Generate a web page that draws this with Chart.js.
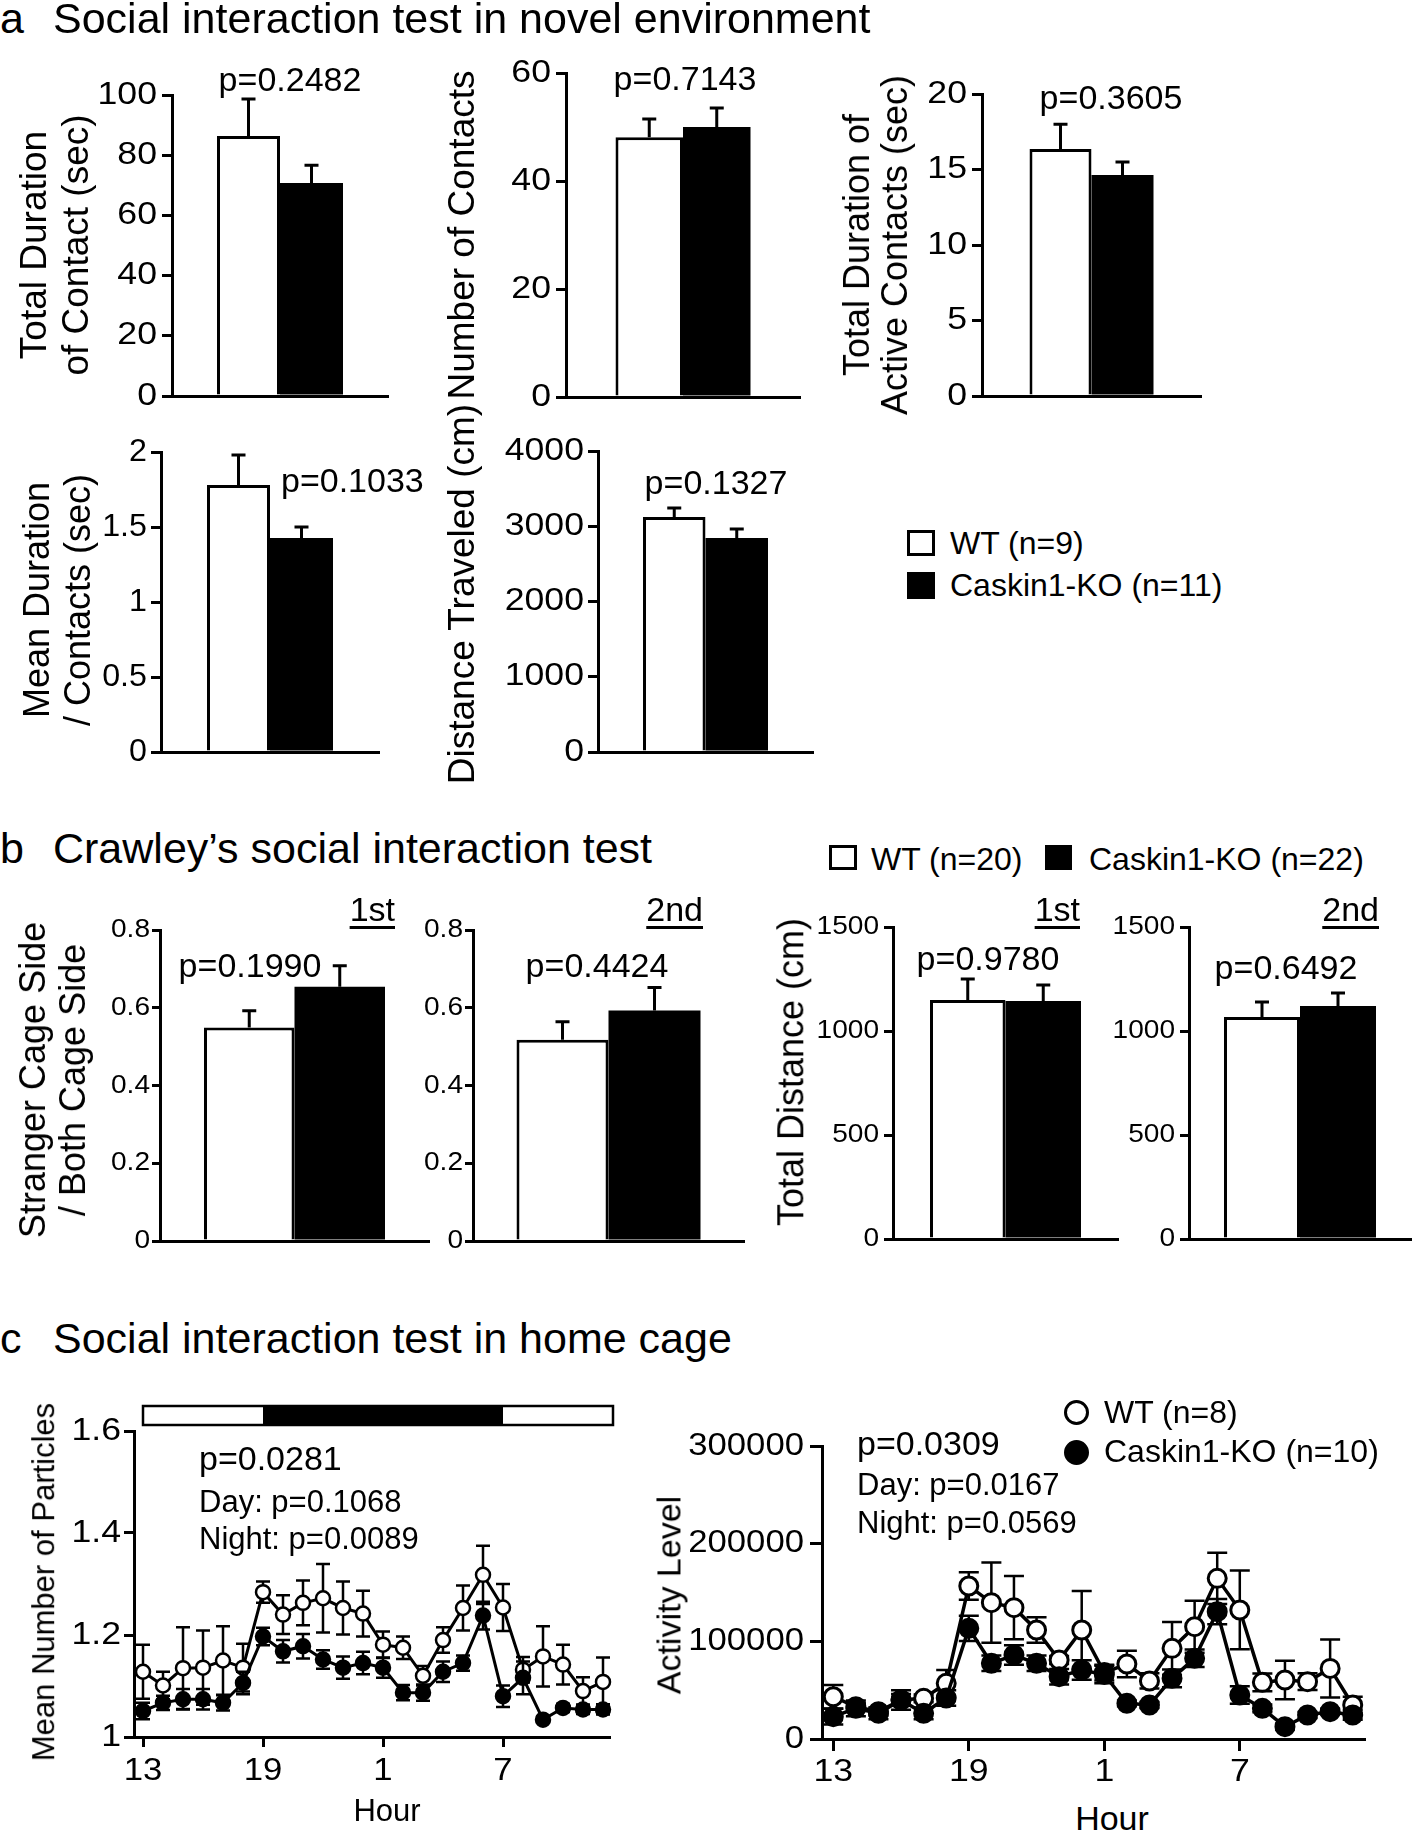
<!DOCTYPE html>
<html>
<head>
<meta charset="utf-8">
<title>Social interaction tests</title>
<script src="https://cdn.jsdelivr.net/npm/chart.js@4.4.1/dist/chart.umd.min.js"></script>
<style>
  html, body {
    margin: 0;
    padding: 0;
    background: #fff;
  }
  body {
    position: relative;
    width: 1417px;
    height: 1832px;
    overflow: hidden;
    font-family: "Liberation Sans", Arial, Helvetica, sans-serif;
    color: #000;
  }
  canvas {
    position: absolute;
  }
  .txt {
    position: absolute;
    white-space: nowrap;
    line-height: 1;
  }
  .ytitle {
    position: absolute;
    white-space: nowrap;
    text-align: center;
    transform: translate(-50%, -50%) rotate(-90deg);
  }
  .swatch {
    position: absolute;
    box-sizing: border-box;
    border: 3px solid #000;
  }
  .dot {
    position: absolute;
    box-sizing: border-box;
    border: 3px solid #000;
    border-radius: 50%;
  }
  .under {
    text-decoration: underline;
    text-decoration-thickness: 3px;
    text-underline-offset: 5px;
  }
</style>
</head>
<body>
<script>
// File constants
const groups = ["WT", "Caskin1-KO"];
const fontFamily = '"Liberation Sans", Arial, Helvetica, sans-serif';

// a: social interaction test in novel environment (WT, KO)
const contactDuration = [86.4, 70.8];
const contactDurationSem = [12.3, 5.9];
const contactNumber = [48.1, 50.0];
const contactNumberSem = [3.4, 3.5];
const activeDuration = [16.36, 14.63];
const activeDurationSem = [1.64, 0.87];
const meanDuration = [1.78, 1.427];
const meanDurationSem = [0.2, 0.073];
const distanceTraveled = [3123, 2844];
const distanceTraveledSem = [120, 119];

// b: Crawley's test, 1st and 2nd session
const strangerRatio1st = [0.549, 0.654];
const strangerRatio1stSem = [0.043, 0.054];
const strangerRatio2nd = [0.518, 0.593];
const strangerRatio2ndSem = [0.046, 0.059];
const totalDistance1st = [1149, 1144];
const totalDistance1stSem = [101, 77];
const totalDistance2nd = [1067, 1120];
const totalDistance2ndSem = [72, 63];

// c: home cage, hourly values from 13:00 to 12:00 next day
const hours = [13, 14, 15, 16, 17, 18, 19, 20, 21, 22, 23, 24, 25, 26, 27, 28, 29, 30, 31, 32, 33, 34, 35, 36];
const hourTicks = [13, 19, 25, 31];
const hourLabels = ["13", "19", "1", "7"];
const lightPhase = [13, 19, 31, 36.5]; // start, lights off, lights on, end

const particlesWT = [1.128, 1.101, 1.135, 1.136, 1.150, 1.136, 1.284, 1.240, 1.263, 1.272, 1.253, 1.242,
  1.181, 1.175, 1.120, 1.190, 1.253, 1.318, 1.254, 1.132, 1.158, 1.142, 1.090, 1.108];
const particlesWTSem = [0.053, 0.027, 0.080, 0.073, 0.067, 0.047, 0.021, 0.038, 0.044, 0.067, 0.052, 0.045,
  0.026, 0.022, 0.019, 0.025, 0.044, 0.057, 0.046, 0.025, 0.059, 0.039, 0.027, 0.048];
const particlesKO = [1.051, 1.067, 1.074, 1.074, 1.067, 1.106, 1.197, 1.168, 1.178, 1.152, 1.136, 1.145,
  1.136, 1.087, 1.087, 1.128, 1.145, 1.238, 1.080, 1.116, 1.034, 1.057, 1.054, 1.054];
const particlesKOSem = [0.016, 0.014, 0.020, 0.020, 0.015, 0.022, 0.017, 0.022, 0.024, 0.018, 0.022, 0.022,
  0.020, 0.015, 0.016, 0.020, 0.015, 0.027, 0.021, 0.032, 0.006, 0.008, 0.009, 0.010];

const activityWT = [43300, 33000, 28000, 40000, 41600, 57000, 156700, 139600, 134500, 111600, 80900, 111600,
  68000, 76800, 59400, 92800, 115000, 164500, 132100, 58000, 60400, 58700, 72300, 34800];
const activityWTSem = [12000, 4000, 4000, 6000, 4000, 13600, 14000, 41000, 32400, 13000, 4000, 40000,
  8000, 13600, 7800, 27000, 26600, 26300, 40300, 9000, 19800, 8500, 29700, 8500];
const activityKO = [22900, 31400, 26300, 39900, 26300, 42000, 113300, 77500, 86000, 77500, 63800, 70600,
  66000, 36500, 34800, 62100, 82600, 130400, 45000, 31400, 12600, 24600, 28000, 24600];
const activityKOSem = [8000, 8000, 6000, 10000, 6000, 8000, 13000, 8000, 10000, 8000, 8000, 10000,
  9000, 3000, 3000, 9000, 9000, 13000, 9000, 4000, 3000, 3000, 3000, 5000];

Chart.defaults.font.family = fontFamily;
Chart.defaults.color = "#000";

// Funtions
/**
 * Formats a tick value without thousands separators or float noise.
 * @param {Number}
 */
function tickText(value){
  return String(Math.round(value * 1000) / 1000);
}

/**
 * Draws the upward SEM bar on every bar of the chart.
 */
const barErrors = {
  id: "barErrors",
  afterDatasetsDraw(chart, args, opts){
    let ctx = chart.ctx;
    let yScale = chart.scales.y;
    ctx.save();
    ctx.strokeStyle = "#000";
    ctx.lineWidth = opts.width;
    chart.data.datasets.forEach((ds, i) => {
      chart.getDatasetMeta(i).data.forEach((bar, j) => {
        let top = yScale.getPixelForValue(ds.data[j]);
        let high = yScale.getPixelForValue(ds.data[j] + ds.sem[j]);
        ctx.beginPath();
        ctx.moveTo(bar.x, top);
        ctx.lineTo(bar.x, high);
        ctx.moveTo(bar.x - opts.cap, high);
        ctx.lineTo(bar.x + opts.cap, high);
        ctx.stroke();
      });
    });
    ctx.restore();
  }
};

/**
 * Draws the +/- SEM bars of one line dataset just before the line itself.
 */
const lineErrors = {
  id: "lineErrors",
  beforeDatasetDraw(chart, args, opts){
    let ds = chart.data.datasets[args.index];
    let yScale = chart.scales.y;
    let ctx = chart.ctx;
    ctx.save();
    ctx.strokeStyle = "#000";
    ctx.lineWidth = opts.width;
    args.meta.data.forEach((pt, j) => {
      let v = ds.data[j].y;
      let hi = yScale.getPixelForValue(v + ds.sem[j]);
      let lo = yScale.getPixelForValue(v - ds.sem[j]);
      ctx.beginPath();
      ctx.moveTo(pt.x, lo);
      ctx.lineTo(pt.x, hi);
      ctx.moveTo(pt.x - opts.cap, hi);
      ctx.lineTo(pt.x + opts.cap, hi);
      ctx.moveTo(pt.x - opts.cap, lo);
      ctx.lineTo(pt.x + opts.cap, lo);
      ctx.stroke();
    });
    ctx.restore();
  }
};

/**
 * Light / dark phase strip above the particles chart.
 */
const lightDarkBar = {
  id: "lightDarkBar",
  afterDraw(chart, args, opts){
    if(!opts.show){return;}
    let ctx = chart.ctx;
    let xScale = chart.scales.x;
    let x = lightPhase.map(h => xScale.getPixelForValue(h));
    let top = chart.chartArea.top - opts.offset - opts.height;
    ctx.save();
    ctx.fillStyle = "#fff";
    ctx.fillRect(x[0], top, x[3] - x[0], opts.height);
    ctx.fillStyle = "#000";
    ctx.fillRect(x[1], top, x[2] - x[1], opts.height);
    ctx.strokeStyle = "#000";
    ctx.lineWidth = 2.5;
    ctx.strokeRect(x[0], top, x[3] - x[0], opts.height);
    ctx.restore();
  }
};

/**
 * The figure's tick numbers are set in a wide face, so the scale's own
 * tick labels are painted here with a horizontal stretch.
 */
const wideTicks = {
  id: "wideTicks",
  afterDraw(chart, args, opts){
    let ctx = chart.ctx;
    ctx.save();
    ctx.fillStyle = "#000";
    ["x", "y"].forEach(id => {
      let o = opts[id];
      if(!o){return;}
      let s = chart.scales[id];
      ctx.font = o.size + "px " + fontFamily;
      s.ticks.forEach((t, i) => {
        let label = t.label !== undefined ? t.label : s.options.ticks.callback(t.value, i, s.ticks);
        let p = s.getPixelForTick(i);
        ctx.save();
        if(id == "y"){
          ctx.translate(s.right - o.gap, p);
          ctx.textAlign = "right";
          ctx.textBaseline = "middle";
        }
        else{
          ctx.translate(p, s.top + o.gap);
          ctx.textAlign = "center";
          ctx.textBaseline = "alphabetic";
        }
        ctx.scale(o.stretch, 1);
        ctx.fillText(label, 0, 0);
        ctx.restore();
      });
    });
    ctx.restore();
  }
};

/**
 * Adds a transparent canvas at a fixed place on the page.
 */
function addCanvas(left, top, width, height){
  let canvas = document.createElement("canvas");
  canvas.width = width;
  canvas.height = height;
  canvas.style.left = left + "px";
  canvas.style.top = top + "px";
  canvas.style.width = width + "px";
  canvas.style.height = height + "px";
  document.body.appendChild(canvas);
  return canvas;
}

/**
 * WT / KO bar pair. box = [left, top, right, bottom] of the axes.
 */
function barChart(spec){
  const [l, t, r, b] = spec.box;
  const yW = Math.min(140, l);
  const padTop = 40, padRight = 20, xH = 30;
  let canvas = addCanvas(l - yW, t - padTop, yW + (r - l) + padRight, padTop + (b - t) + xH);
  return new Chart(canvas, {
    type: "bar",
    data: {
      labels: [""],
      datasets: [
        { label: groups[0], data: [spec.values[0]], sem: [spec.sems[0]],
          backgroundColor: "#fff", borderColor: "#000", borderWidth: 3 },
        { label: groups[1], data: [spec.values[1]], sem: [spec.sems[1]],
          backgroundColor: "#000", borderColor: "#000", borderWidth: 0 }
      ]
    },
    options: {
      responsive: false,
      animation: false,
      events: [],
      layout: { padding: { top: padTop, right: padRight, bottom: 0, left: 0 } },
      datasets: { bar: { categoryPercentage: (spec.pair[1] - spec.pair[0]) / (r - l), barPercentage: 1 } },
      plugins: {
        legend: { display: false },
        tooltip: { enabled: false },
        barErrors: { cap: 7, width: 3 },
        wideTicks: { y: { size: spec.font, stretch: spec.stretch, gap: spec.gap } }
      },
      scales: {
        x: {
          grid: { display: false },
          ticks: { display: false },
          border: { color: "#000", width: 3 },
          afterFit: (s) => { s.height = xH; }
        },
        y: {
          min: 0,
          max: spec.max,
          ticks: { display: false, stepSize: spec.step, callback: tickText },
          grid: { drawOnChartArea: false, color: "#000", lineWidth: 3, tickLength: spec.tick },
          border: { color: "#000", width: 3 },
          afterFit: (s) => { s.width = yW; }
        }
      }
    },
    plugins: [barErrors, wideTicks]
  });
}

/**
 * Hourly WT / KO line chart with SEM bars.
 */
function lineChart(spec){
  const [l, t, r, b] = spec.box;
  const yW = Math.min(140, l);
  const padTop = 40, padRight = 20, xH = 60;
  let canvas = addCanvas(l - yW, t - padTop, yW + (r - l) + padRight, padTop + (b - t) + xH);
  return new Chart(canvas, {
    type: "line",
    data: {
      datasets: [
        { label: groups[0], data: hours.map((h, i) => ({ x: h, y: spec.wt[i] })), sem: spec.wtSem,
          borderColor: "#000", borderWidth: spec.line, pointRadius: spec.radius,
          pointBackgroundColor: "#fff", pointBorderColor: "#000", pointBorderWidth: spec.ring,
          tension: 0, clip: false, order: 1 },
        { label: groups[1], data: hours.map((h, i) => ({ x: h, y: spec.ko[i] })), sem: spec.koSem,
          borderColor: "#000", borderWidth: spec.line, pointRadius: spec.radius,
          pointBackgroundColor: "#000", pointBorderColor: "#000", pointBorderWidth: spec.ring,
          tension: 0, clip: false, order: 0 }
      ]
    },
    options: {
      responsive: false,
      animation: false,
      events: [],
      layout: { padding: { top: padTop, right: padRight, bottom: 0, left: 0 } },
      plugins: {
        legend: { display: false },
        tooltip: { enabled: false },
        lineErrors: { cap: spec.cap, width: 2.5 },
        lightDarkBar: { show: !!spec.strip, offset: 6, height: 19 },
        wideTicks: {
          y: { size: spec.font, stretch: spec.stretch, gap: spec.gap },
          x: { size: spec.xFont, stretch: spec.xStretch, gap: spec.xGap }
        }
      },
      scales: {
        x: {
          type: "linear",
          min: spec.xRange[0],
          max: spec.xRange[1],
          afterBuildTicks: (s) => { s.ticks = hourTicks.map(v => ({ value: v })); },
          ticks: {
            display: false,
            autoSkip: false,
            maxRotation: 0,
            callback: (v) => hourLabels[hourTicks.indexOf(v)]
          },
          grid: { drawOnChartArea: false, color: "#000", lineWidth: 3, tickLength: spec.xTick },
          border: { color: "#000", width: 3 },
          afterFit: (s) => { s.height = xH; }
        },
        y: {
          min: spec.yRange[0],
          max: spec.yRange[1],
          ticks: { display: false, stepSize: spec.step, callback: tickText },
          grid: { drawOnChartArea: false, color: "#000", lineWidth: 3, tickLength: spec.tick },
          border: { color: "#000", width: 3 },
          afterFit: (s) => { s.width = yW; }
        }
      }
    },
    plugins: [lineErrors, lightDarkBar, wideTicks]
  });
}

/**
 * Places a text line by its baseline.
 */
function text(str, x, baseline, size, align, cls){
  let d = document.createElement("div");
  d.className = "txt" + (cls ? " " + cls : "");
  d.textContent = str;
  d.style.fontSize = size + "px";
  d.style.top = (baseline - 0.8465 * size) + "px";
  if(align == "center"){
    d.style.left = x + "px";
    d.style.transform = "translateX(-50%)";
  }
  else if(align == "right"){
    d.style.right = (1417 - x) + "px";
  }
  else{
    d.style.left = x + "px";
  }
  document.body.appendChild(d);
  return d;
}

/**
 * Rotated axis title, centred on (cx, cy).
 */
function yTitle(lines, cx, cy, size, spacing){
  let d = document.createElement("div");
  d.className = "ytitle";
  d.innerHTML = lines.join("<br>");
  d.style.fontSize = size + "px";
  d.style.lineHeight = (spacing || size * 1.15) + "px";
  d.style.left = cx + "px";
  d.style.top = cy + "px";
  document.body.appendChild(d);
}

function swatch(cls, left, top, w, h, fill){
  let d = document.createElement("div");
  d.className = cls;
  d.style.left = left + "px";
  d.style.top = top + "px";
  d.style.width = w + "px";
  d.style.height = h + "px";
  d.style.background = fill;
  document.body.appendChild(d);
}

// Function execution
// panel a
barChart({ box: [172, 95, 388, 396], values: contactDuration, sems: contactDurationSem, max: 100, step: 20,
  pair: [218, 344], font: 31, stretch: 1.15, tick: 10, gap: 15 });
barChart({ box: [566, 73, 800, 397], values: contactNumber, sems: contactNumberSem, max: 60, step: 20,
  pair: [617, 752], font: 31, stretch: 1.15, tick: 10, gap: 15 });
barChart({ box: [982, 94, 1201, 396], values: activeDuration, sems: activeDurationSem, max: 20, step: 5,
  pair: [1031, 1155], font: 31, stretch: 1.15, tick: 10, gap: 15 });
barChart({ box: [161, 452, 379, 752], values: meanDuration, sems: meanDurationSem, max: 2, step: 0.5,
  pair: [208, 334], font: 31, stretch: 1.04, tick: 10, gap: 14 });
barChart({ box: [598, 451, 813, 752], values: distanceTraveled, sems: distanceTraveledSem, max: 4000, step: 1000,
  pair: [644, 769], font: 31, stretch: 1.15, tick: 10, gap: 14 });

// panel b
barChart({ box: [160, 930, 429, 1241], values: strangerRatio1st, sems: strangerRatio1stSem, max: 0.8, step: 0.2,
  pair: [207, 388], font: 26, stretch: 1.08, tick: 8, gap: 10 });
barChart({ box: [473, 930, 744, 1241], values: strangerRatio2nd, sems: strangerRatio2ndSem, max: 0.8, step: 0.2,
  pair: [521, 705], font: 26, stretch: 1.08, tick: 8, gap: 10 });
barChart({ box: [893, 927, 1118, 1239], values: totalDistance1st, sems: totalDistance1stSem, max: 1500, step: 500,
  pair: [929, 1080], font: 26, stretch: 1.08, tick: 9, gap: 14 });
barChart({ box: [1189, 927, 1411, 1239], values: totalDistance2nd, sems: totalDistance2ndSem, max: 1500, step: 500,
  pair: [1227, 1379], font: 26, stretch: 1.08, tick: 9, gap: 14 });

// panel c
lineChart({ box: [134, 1431, 609, 1737], xRange: [12.55, 36.3], yRange: [1, 1.6], step: 0.2,
  wt: particlesWT, wtSem: particlesWTSem, ko: particlesKO, koSem: particlesKOSem,
  radius: 7, ring: 2.5, line: 3, cap: 7, font: 31, stretch: 1.15, tick: 10, gap: 13,
  xFont: 31, xStretch: 1.12, xTick: 10, xGap: 43, strip: true });
lineChart({ box: [822, 1446, 1364, 1739], xRange: [12.5, 36.5], yRange: [0, 300000], step: 100000,
  wt: activityWT, wtSem: activityWTSem, ko: activityKO, koSem: activityKOSem,
  radius: 9, ring: 3, line: 3.5, cap: 10, font: 31, stretch: 1.12, tick: 12, gap: 18,
  xFont: 31, xStretch: 1.15, xTick: 12, xGap: 42 });

// panel titles
text("a", 0, 33, 43);
text("Social interaction test in novel environment", 53, 33, 43);
text("b", 0, 863, 43);
text("Crawley\u2019s social interaction test", 53, 863, 43);
text("c", 0, 1353, 43);
text("Social interaction test in home cage", 53, 1353, 43);

// axis titles
yTitle(["Total Duration", "of Contact (sec)"], 55, 245, 37, 42);
yTitle(["Number of Contacts"], 462, 235, 37);
yTitle(["Total Duration of", "Active Contacts (sec)"], 876, 245, 36, 38);
yTitle(["Mean Duration", "/ Contacts (sec)"], 57, 600, 36, 41);
yTitle(["Distance Traveled (cm)"], 462, 594, 37);
yTitle(["Stranger Cage Side", "/ Both Cage Side"], 53, 1080, 36, 40);
yTitle(["Total Distance (cm)"], 791, 1072, 36);
yTitle(["Mean Number of Particles"], 44, 1582, 31);
yTitle(["Activity Level"], 669, 1595, 34);
text("Hour", 387, 1821, 31, "center");
text("Hour", 1112, 1830, 34, "center");

// p values
text("p=0.2482", 290, 91, 34, "center");
text("p=0.7143", 685, 90, 34, "center");
text("p=0.3605", 1111, 109, 34, "center");
text("p=0.1033", 281, 492, 34);
text("p=0.1327", 716, 494, 34, "center");
text("p=0.1990", 250, 977, 34, "center");
text("p=0.4424", 597, 977, 34, "center");
text("p=0.9780", 988, 970, 34, "center");
text("p=0.6492", 1286, 979, 34, "center");
text("1st", 395, 921, 34, "right", "under");
text("2nd", 703, 921, 34, "right", "under");
text("1st", 1080, 921, 34, "right", "under");
text("2nd", 1379, 921, 34, "right", "under");
text("p=0.0281", 199, 1470, 34);
text("Day: p=0.1068", 199, 1512, 31);
text("Night: p=0.0089", 199, 1549, 31);
text("p=0.0309", 857, 1455, 34);
text("Day: p=0.0167", 857, 1495, 31);
text("Night: p=0.0569", 857, 1533, 31);

// legends
swatch("swatch", 907, 530, 28, 26, "#fff");
swatch("swatch", 907, 572, 28, 27, "#000");
text("WT (n=9)", 950, 554, 32);
text("Caskin1-KO (n=11)", 950, 596, 32);
swatch("swatch", 829, 845, 28, 25, "#fff");
swatch("swatch", 1045, 845, 27, 25, "#000");
text("WT (n=20)", 871, 870, 32);
text("Caskin1-KO (n=22)", 1089, 870, 32);
swatch("dot", 1064, 1400, 25, 25, "#fff");
swatch("dot", 1064, 1440, 25, 25, "#000");
text("WT (n=8)", 1104, 1423, 32);
text("Caskin1-KO (n=10)", 1104, 1462, 32);
</script>
</body>
</html>
